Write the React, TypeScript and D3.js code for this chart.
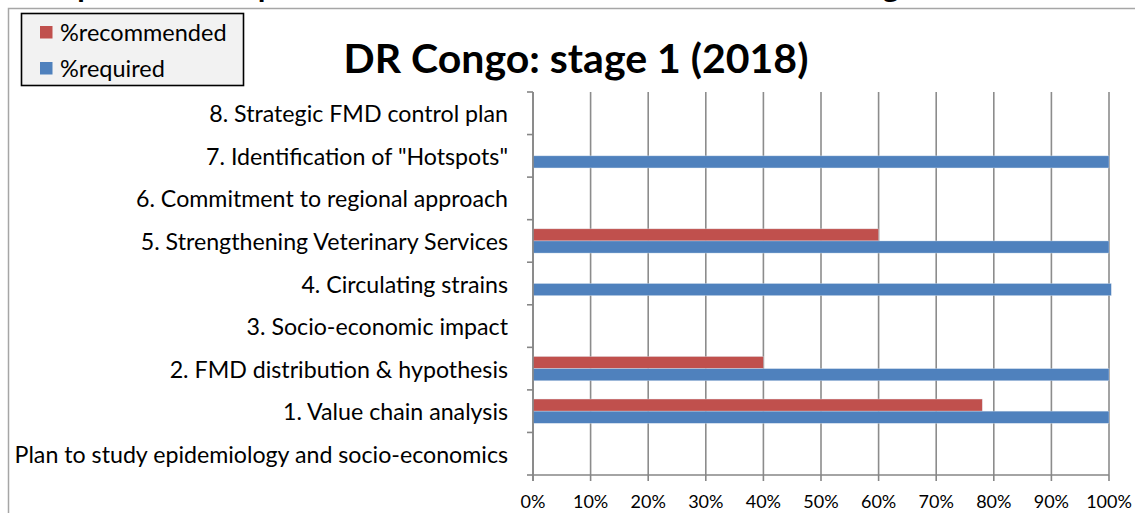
import React from "react";
import * as d3 from "d3";

const categories = [
  "8. Strategic FMD control plan",
  '7. Identification of "Hotspots"',
  "6. Commitment to regional approach",
  "5. Strengthening Veterinary Services",
  "4. Circulating strains",
  "3. Socio-economic impact",
  "2. FMD distribution & hypothesis",
  "1. Value chain analysis",
  "Plan to study epidemiology and socio-economics",
];
const recommended = [0, 0, 0, 60, 0, 0, 40, 78, 0];
const required = [0, 100, 0, 100, 100.4, 0, 100, 100, 0];
const xTicks = [0, 10, 20, 30, 40, 50, 60, 70, 80, 90, 100];
const seriesNames = ["%recommended", "%required"];
const seriesColors = ["#C0504D", "#4F81BD"];
const title = "DR Congo: stage 1 (2018)";
const clippedHeading = "Proportion of required and recommended outcomes for the stage";

const W = 1135;
const H = 513;
const FONT = "Lato, 'Open Sans', sans-serif";

export default function App() {
  const left = 533;
  const right = 1109;
  const top = 92;
  const bottom = 475;

  const x = d3.scaleLinear().domain([0, 100]).range([left, right]);
  const y = d3.scaleBand<string>().domain(categories).range([top, bottom]);
  const bw = y.bandwidth();
  const barH = bw * 0.285;

  const series = [recommended, required];

  return (
    <svg
      width={W}
      height={H}
      style={{ position: "absolute", left: 0, top: 0, background: "#fff" }}
      fontFamily={FONT}
    >
      {/* heading above the chart, cut off by the page edge */}
      <text x={30} y={-2} fontSize={26} fontWeight="bold" fill="#000" textLength={885} lengthAdjust="spacingAndGlyphs">
        {clippedHeading}
      </text>
      {/* chart area border */}
      <rect x={8.5} y={8.5} width={W + 20} height={H + 20} fill="#fff" stroke="#a6a6a6" strokeWidth={1.5} />

      {/* gridlines */}
      {xTicks.map((t) => (
        <line key={"g" + t} x1={x(t)} x2={x(t)} y1={top} y2={bottom} stroke="#8c8c8c" strokeWidth={1.6} />
      ))}

      {/* bars */}
      {categories.map((c, i) =>
        series.map((vals, s) => {
          const v = vals[i];
          if (!v) return null;
          const cy = (y(c) as number) + bw / 2;
          const yy = s === 0 ? cy - barH : cy;
          return (
            <rect
              key={c + s}
              x={x(0)}
              y={yy}
              width={x(v) - x(0)}
              height={barH}
              fill={seriesColors[s]}
              stroke="#dfe7f1"
              strokeOpacity={0.6}
              strokeWidth={0.6}
            />
          );
        })
      )}

      {/* y axis */}
      <line x1={left} x2={left} y1={top} y2={bottom + 6} stroke="#868686" strokeWidth={1.6} />
      {categories.map((c, i) => (
        <line key={"yt" + i} x1={left - 6} x2={left} y1={y(c) as number} y2={y(c) as number} stroke="#868686" strokeWidth={1.6} />
      ))}
      <line x1={left - 6} x2={left} y1={bottom} y2={bottom} stroke="#868686" strokeWidth={1.6} />
      {categories.map((c) => (
        <text
          key={"yl" + c}
          x={508}
          y={(y(c) as number) + bw / 2}
          textAnchor="end"
          dominantBaseline="central"
          fontSize={23.2}
          fill="#000"
        >
          {c}
        </text>
      ))}

      {/* x axis */}
      <line x1={left} x2={right} y1={bottom} y2={bottom} stroke="#868686" strokeWidth={1.6} />
      {xTicks.map((t) => (
        <g key={"xt" + t}>
          <line x1={x(t)} x2={x(t)} y1={bottom} y2={bottom + 6} stroke="#868686" strokeWidth={1.6} />
          <text x={x(t)} y={501} textAnchor="middle" dominantBaseline="central" fontSize={18} fill="#000">
            {t + "%"}
          </text>
        </g>
      ))}

      {/* title */}
      <text x={576} y={57} textAnchor="middle" dominantBaseline="central" fontSize={41} fontWeight="bold" fill="#000">
        {title}
      </text>

      {/* legend */}
      <rect x={21.5} y={13.5} width={222} height={72} fill="#f2f2f2" stroke="#000" strokeWidth={1.6} />
      {seriesNames.map((n, i) => (
        <g key={n}>
          <rect x={40} y={26 + i * 36} width={12.5} height={12.5} fill={seriesColors[i]} />
          <text x={60} y={32 + i * 36} dominantBaseline="central" fontSize={23.5} fill="#000">
            {n}
          </text>
        </g>
      ))}
    </svg>
  );
}
